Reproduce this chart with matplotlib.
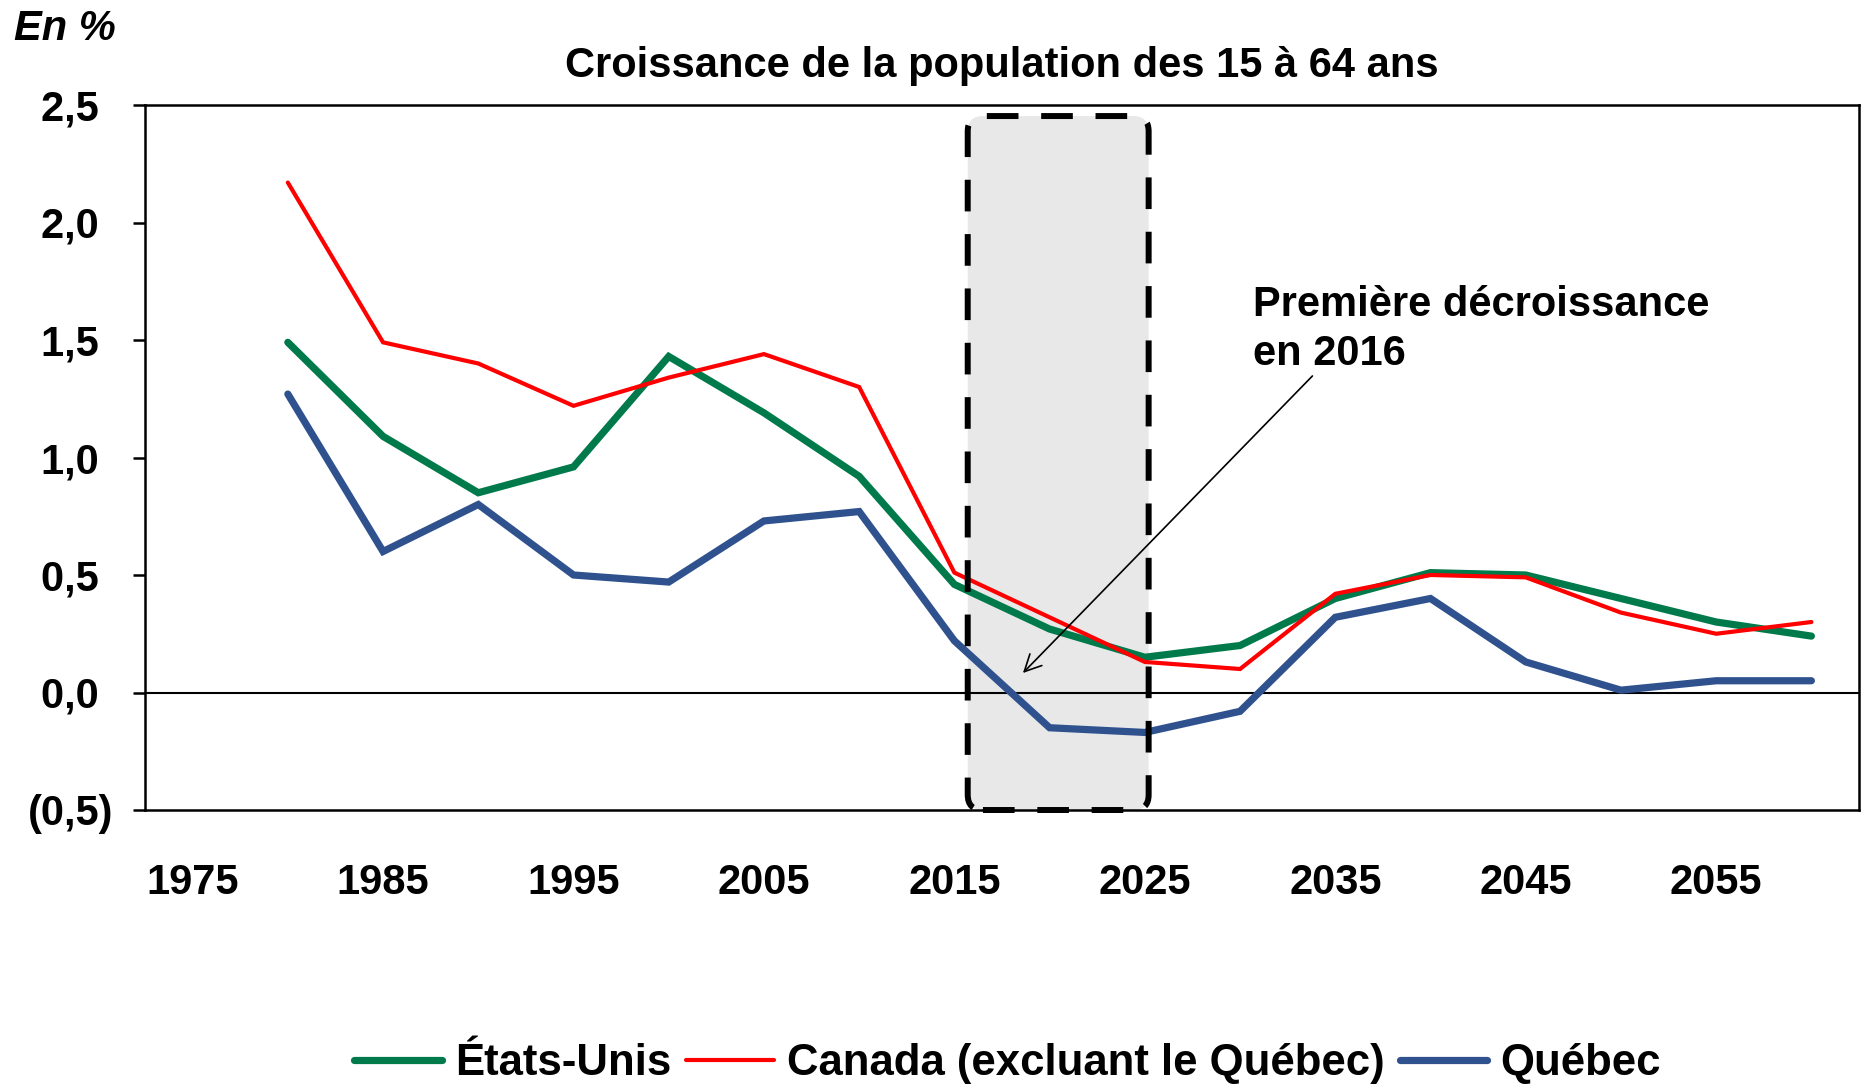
import matplotlib
matplotlib.use('Agg')
import matplotlib.pyplot as plt
from matplotlib.patches import FancyBboxPatch
from matplotlib.ticker import FuncFormatter, FixedLocator

plt.rcParams['font.family'] = ['Liberation Sans', 'DejaVu Sans']
plt.rcParams['font.weight'] = 'bold'

# ---- data ----
years = [1980, 1985, 1990, 1995, 2000, 2005, 2010, 2015, 2020, 2025,
         2030, 2035, 2040, 2045, 2050, 2055, 2060]
etats_unis = [1.49, 1.09, 0.85, 0.96, 1.43, 1.19, 0.92, 0.46, 0.27, 0.15,
              0.20, 0.40, 0.51, 0.50, 0.40, 0.30, 0.24]
canada = [2.17, 1.49, 1.40, 1.22, 1.34, 1.44, 1.30, 0.51, 0.32, 0.13,
          0.10, 0.42, 0.50, 0.49, 0.34, 0.25, 0.30]
quebec = [1.27, 0.60, 0.80, 0.50, 0.47, 0.73, 0.77, 0.22, -0.15, -0.17,
          -0.08, 0.32, 0.40, 0.13, 0.01, 0.05, 0.05]
series_labels = ['États-Unis', 'Canada (excluant le Québec)', 'Québec']
xtick_years = [1975, 1985, 1995, 2005, 2015, 2025, 2035, 2045, 2055]
yticks = [-0.5, 0.0, 0.5, 1.0, 1.5, 2.0, 2.5]
title = 'Croissance de la population des 15 à 64 ans'
annot_text = 'Première décroissance\nen 2016'

GREEN = '#007A4B'
RED = '#FF0000'
BLUE = '#2F528F'

fig = plt.figure(figsize=(18.66, 10.84), dpi=100)
ax = fig.add_axes([145/1866, 1-810/1084, (1859-145)/1866, (810-105)/1084])

ax.set_xlim(1972.5, 2062.5)
ax.set_ylim(-0.5, 2.5)

# highlighted period box
box_fill = FancyBboxPatch((2015.7, -0.5), 9.5, 2.953,
                          boxstyle='round,pad=0,rounding_size=0.8',
                          mutation_aspect=0.081, fc='#E8E8E8', ec='none',
                          zorder=1)
ax.add_patch(box_fill)

ax.axhline(0, color='black', lw=1.5, zorder=2)

l1, = ax.plot(years, etats_unis, color=GREEN, lw=5.2, solid_capstyle='round',
              solid_joinstyle='miter', zorder=3, label=series_labels[0])
l2, = ax.plot(years, canada, color=RED, lw=3, solid_capstyle='round',
              solid_joinstyle='miter', zorder=3.2, label=series_labels[1])
l3, = ax.plot(years, quebec, color=BLUE, lw=5.2, solid_capstyle='round',
              solid_joinstyle='miter', zorder=3.1, label=series_labels[2])

box_edge = FancyBboxPatch((2015.7, -0.5), 9.5, 2.953,
                          boxstyle='round,pad=0,rounding_size=0.8',
                          mutation_aspect=0.081, fill=False, ec='black',
                          lw=4.3, ls=(0, (5.3, 3.8)), zorder=4, clip_on=False)
ax.add_patch(box_edge)

# annotation (baseline of last line)
ax.text(2030.7, 1.394, annot_text, ha='left', va='baseline', fontsize=30,
        fontweight='bold', linespacing=1.3, zorder=5)
ax.annotate('', xy=(2018.6, 0.083), xytext=(2033.8, 1.347),
            arrowprops=dict(arrowstyle='->,head_length=0.6,head_width=0.3',
                            mutation_scale=20, lw=1.2, color='black',
                            shrinkA=0, shrinkB=0), zorder=5)

# axes styling
for s in ax.spines.values():
    s.set_linewidth(1.8)
    s.set_color('black')

ax.xaxis.set_major_locator(FixedLocator(xtick_years))
ax.set_xticklabels([str(y) for y in xtick_years])
ax.yaxis.set_major_locator(FixedLocator(yticks))


def yfmt(v, pos):
    s = f'{abs(v):.1f}'.replace('.', ',')
    if v < -1e-9:
        return f'({s})'
    return s + '\u2004'


ax.yaxis.set_major_formatter(FuncFormatter(yfmt))
ax.tick_params(axis='y', direction='out', length=9, width=1.8, pad=14,
               labelsize=30)
ax.tick_params(axis='x', length=0, pad=38, labelsize=30)
for t in ax.get_xticklabels() + ax.get_yticklabels():
    t.set_fontweight('bold')

ax.set_title(title, fontsize=30, fontweight='bold', pad=20)

fig.text(14/1866, 1-40/1084, 'En %', fontsize=30, fontweight='bold',
         style='italic', va='baseline', ha='left')

fig.legend(handles=[l1, l2, l3], loc='center', bbox_to_anchor=(0.54, 0.019),
           ncol=3, frameon=False, fontsize=31.5, handlelength=2.0,
           handletextpad=0.3, columnspacing=0.35, borderaxespad=0)

fig.savefig('out.png', dpi=100)
